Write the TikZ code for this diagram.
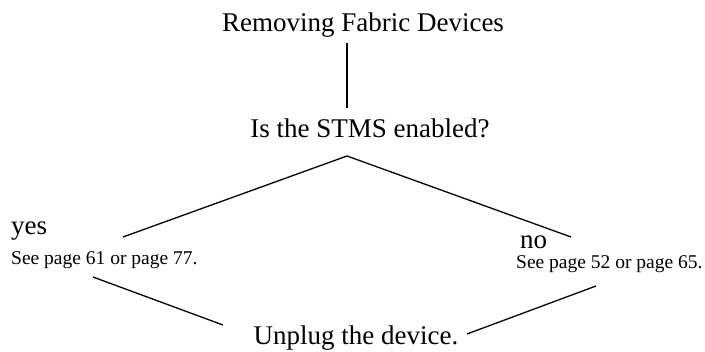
\documentclass[tikz,border=0pt]{standalone}
\usepackage{fontspec}
\setmainfont{Liberation Serif}
\begin{document}
\begin{tikzpicture}[x=1pt,y=-1pt,
  big/.style={inner sep=0pt,anchor=base,font=\fontsize{27}{30}\selectfont},
  small/.style={inner sep=0pt,anchor=base west,font=\fontsize{19.5}{22}\selectfont},
  link/.style={draw=black,line width=1.3pt}]
\useasboundingbox (0,0) rectangle (705,352);
\node[big] (title) at (363,32) {Removing Fabric Devices};
\node[big] (question) at (370,138) {Is the STMS enabled?};
\node[big] (unplug) at (356,345) {Unplug the device.};
\node[big,anchor=base west] (yes) at (11,235) {yes};
\node[small] (yesref) at (11,265) {See page 61 or page 77.};
\node[big,anchor=base west,text depth=0pt] (no) at (520,248.5) {no};
\node[small,text height=12pt] (noref) at (516,269) {See page 52 or page 65.};
\coordinate (t1) at (347,43);
\coordinate (t2) at (347,108);
\coordinate (apex) at (347,156);
\coordinate (yesin) at (123,237);
\coordinate (noin) at (571,237);
\coordinate (yesout) at (93,277);
\coordinate (noout) at (596,286);
\coordinate (ul) at (223,325);
\coordinate (ur) at (467,334);
\draw[link] (t1) -- (t2);
\draw[link] (yesin) -- (apex) -- (noin);
\draw[link] (yesout) -- (ul);
\draw[link] (noout) -- (ur);
\end{tikzpicture}
\end{document}
